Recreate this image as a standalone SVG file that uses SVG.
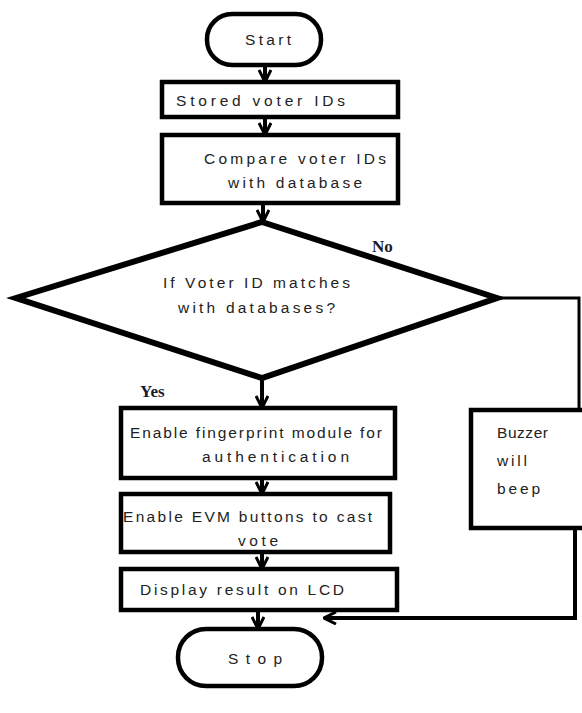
<svg xmlns="http://www.w3.org/2000/svg" width="582" height="713" viewBox="0 0 582 713">
<style>
.box{fill:#fff;stroke:#000;stroke-width:4.5}
.t{font-family:"Liberation Sans",Arial,sans-serif;font-size:15.5px;fill:#222}
.b{font-family:"Liberation Serif","Times New Roman",serif;font-size:17px;font-weight:bold;fill:#1a1a2e}
.ln{fill:none;stroke:#000;stroke-width:4}
.thin{fill:none;stroke:#000;stroke-width:3}
</style>
<defs>
<marker id="ah" viewBox="0 0 14 14" refX="13" refY="7" markerWidth="14" markerHeight="14" markerUnits="userSpaceOnUse" orient="auto">
<path d="M1,1 L13,7 L1,13" fill="none" stroke="#000" stroke-width="3"/>
</marker>
</defs>
<rect width="582" height="713" fill="#fff"/>
<g id="connectors">
<line class="ln" x1="265" y1="66" x2="265" y2="82" marker-end="url(#ah)"/>
<line class="ln" x1="265" y1="117" x2="265" y2="135" marker-end="url(#ah)"/>
<line class="ln" x1="263" y1="203" x2="263" y2="222" marker-end="url(#ah)"/>
<line class="ln" x1="262" y1="378" x2="262" y2="408" marker-end="url(#ah)"/>
<line class="ln" x1="262" y1="478" x2="262" y2="494" marker-end="url(#ah)"/>
<line class="ln" x1="262" y1="552" x2="262" y2="569" marker-end="url(#ah)"/>
<line class="ln" x1="258" y1="610" x2="258" y2="629" marker-end="url(#ah)"/>
<polyline class="thin" points="497,298 579,298 579,410"/>
<polyline class="ln" points="575,528 575,618 324,618" marker-end="url(#ah)"/>
</g>
<g id="start">
<rect class="box" x="207" y="14" width="114" height="51" rx="25"/>
<text class="t" x="245" y="45" textLength="46">Start</text>
</g>
<g id="stored">
<rect class="box" x="162" y="82" width="236" height="35"/>
<text class="t" x="176" y="106" textLength="169">Stored voter IDs</text>
</g>
<g id="compare">
<rect class="box" x="162" y="135" width="236" height="68"/>
<text class="t" x="204" y="164" textLength="182">Compare voter IDs</text>
<text class="t" x="228" y="188" textLength="134">with database</text>
</g>
<g id="decision">
<polygon points="262,222 497,298 262,378 16,298" fill="#fff" stroke="#000" stroke-width="6" stroke-linejoin="miter"/>
<text class="t" x="163" y="288" textLength="187">If Voter ID matches</text>
<text class="t" x="178" y="313" textLength="157">with databases?</text>
</g>
<text class="b" x="372" y="252">No</text>
<text class="b" x="140" y="397">Yes</text>
<g id="fingerprint">
<rect class="box" x="121" y="408" width="274" height="70"/>
<text class="t" x="130" y="438" textLength="252">Enable fingerprint module for</text>
<text class="t" x="202" y="462" textLength="147">authentication</text>
</g>
<g id="evm">
<rect class="box" x="121" y="494" width="269" height="58"/>
<text class="t" x="123" y="522" textLength="249">Enable EVM buttons to cast</text>
<text class="t" x="238" y="546" textLength="40">vote</text>
</g>
<g id="display">
<rect class="box" x="121" y="569" width="276" height="41"/>
<text class="t" x="140" y="595" textLength="204">Display result on LCD</text>
</g>
<g id="stop">
<rect class="box" x="178" y="629" width="144" height="57" rx="28"/>
<text class="t" x="228" y="664" textLength="54">Stop</text>
</g>
<g id="buzzer">
<rect class="box" x="471" y="410" width="114" height="118"/>
<text class="t" x="497" y="438" textLength="51">Buzzer</text>
<text class="t" x="497" y="466" textLength="30">will</text>
<text class="t" x="497" y="494" textLength="43">beep</text>
</g>
</svg>
